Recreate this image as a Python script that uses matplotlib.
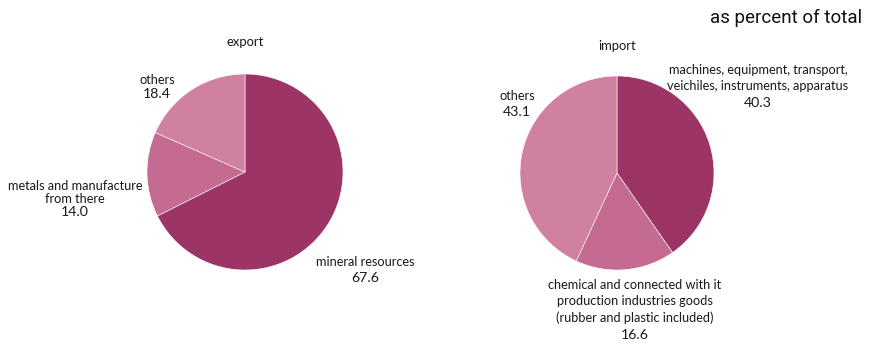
import matplotlib
matplotlib.use("Agg")
import matplotlib.pyplot as plt

# data
export_labels = ["mineral resources", "metals and manufacture\nfrom there", "others"]
export_values = [67.6, 14.0, 18.4]
import_labels = ["machines, equipment, transport,\nveichiles, instruments, apparatus",
                 "chemical and connected with it\nproduction industries goods\n(rubber and plastic included)",
                 "others"]
import_values = [40.3, 16.6, 43.1]

colors = ["#9c3566", "#c56a90", "#d080a0"]
W, H = 869, 344

fig = plt.figure(figsize=(W / 100, H / 100), dpi=100)


def pie_axes(cx, cy, r):
    # pixel centre / radius -> figure fraction axes
    return fig.add_axes([(cx - r) / W, (H - cy - r) / H, 2 * r / W, 2 * r / H])


ax1 = pie_axes(245, 172, 98)
ax2 = pie_axes(617, 173, 97)
for ax, vals in [(ax1, export_values), (ax2, import_values)]:
    ax.pie(vals, colors=colors, startangle=90, counterclock=False, radius=1,
           wedgeprops=dict(edgecolor="white", linewidth=0.4))
    ax.set_xlim(-1, 1)
    ax.set_ylim(-1, 1)
    ax.axis("off")

lab_font = "Lato"


def label(x, y, name, val, step):
    # name lines then value line, centred at pixel x, top at pixel y, step = px per line
    fig.text(x / W, 1 - y / H, name, ha="center", va="top", fontsize=9.2,
             family=lab_font, color="#1a1a1a", linespacing=step / 11.8)
    n = name.count("\n") + 1
    fig.text(x / W, 1 - (y + step * n - 0.5) / H, "%.1f" % val, ha="center", va="top",
             fontsize=10.2, family=lab_font, color="#1a1a1a")


fig.text(245 / W, 1 - 36 / H, "export", ha="center", va="top", fontsize=9.4,
         family=lab_font, color="#1a1a1a")
fig.text(617 / W, 1 - 40 / H, "import", ha="center", va="top", fontsize=9.4,
         family=lab_font, color="#1a1a1a")

label(365, 256, export_labels[0], export_values[0], 16)
label(75, 180, export_labels[1], export_values[1], 13.5)
label(157, 74, export_labels[2], export_values[2], 14)

label(758, 64, import_labels[0], import_values[0], 17)
label(635, 279, import_labels[1], import_values[1], 16.7)
label(517, 90, import_labels[2], import_values[2], 17)

fig.text(862 / W, 1 - 9 / H, "as percent of total", ha="right", va="top",
         fontsize=13.5, family="Roboto", color="#111111")

fig.savefig("out.png", dpi=100)
